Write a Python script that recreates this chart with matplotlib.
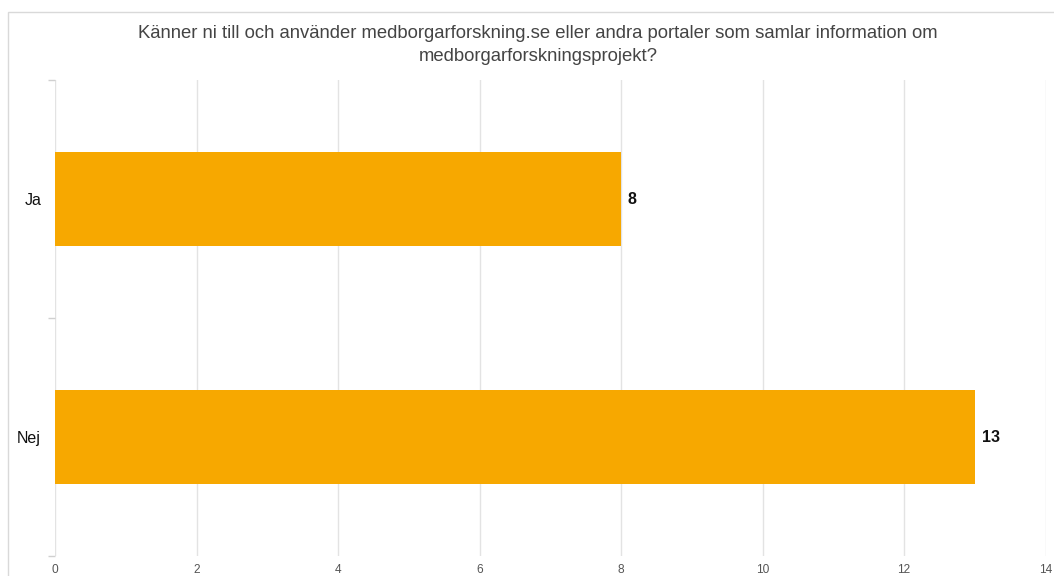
import matplotlib
matplotlib.use("Agg")
import matplotlib.pyplot as plt
from matplotlib.patches import Rectangle
from matplotlib.ticker import FixedLocator

categories = ["Ja", "Nej"]
values = [8, 13]
xticks = [0, 2, 4, 6, 8, 10, 12, 14]
title = ("Känner ni till och använder medborgarforskning.se eller andra portaler som samlar information om\n"
         "medborgarforskningsprojekt?")

plt.rcParams['font.family'] = ['Liberation Sans', 'DejaVu Sans']

fig = plt.figure(figsize=(10.54, 5.76), dpi=100)
fig.patch.set_facecolor("white")

# light border around chart area
fig.add_artist(Rectangle((8/1054, -0.1), 1.2, 1 - 12/576 + 0.1, transform=fig.transFigure,
                         fill=False, edgecolor="#d9d9d9", linewidth=1.0))

ax = fig.add_axes([55/1054, 1 - 556/576, (1045.5 - 55)/1054, (556 - 80)/576])
ypos = list(range(len(categories)))
bars = ax.barh(ypos, values, height=0.395, color="#F7A800", zorder=3)

ax.set_xlim(0, 14)
ax.set_ylim(len(categories) - 0.5, -0.5)
ax.set_xticks(xticks)
ax.set_xticklabels([str(t) for t in xticks], fontsize=8.6, color="#555555")
ax.tick_params(axis="x", length=0, pad=6)
ax.set_yticks(ypos)
ax.set_yticklabels(categories, fontsize=11.5, color="#111111")
ax.tick_params(axis="y", which="major", length=0, pad=10)
ax.yaxis.set_minor_locator(FixedLocator([-0.5, 0.5, 1.5]))
ax.tick_params(axis="y", which="minor", length=5, width=1, color="#d0d0d0")

ax.grid(axis="x", color="#e3e3e3", linewidth=1.0, zorder=0)
for s in ax.spines.values():
    s.set_visible(False)

for b, v in zip(bars, values):
    ax.annotate(str(v), (b.get_width(), b.get_y() + b.get_height() / 2),
                xytext=(5, 0), textcoords="offset points", va="center", ha="left",
                fontsize=11.5, fontweight="bold", color="#111111")

fig.text(538/1054, 1 - 45/576, title, ha="center", va="center", fontsize=13.3,
         color="#444444", linespacing=1.5)

fig.savefig("out.png", dpi=100)
